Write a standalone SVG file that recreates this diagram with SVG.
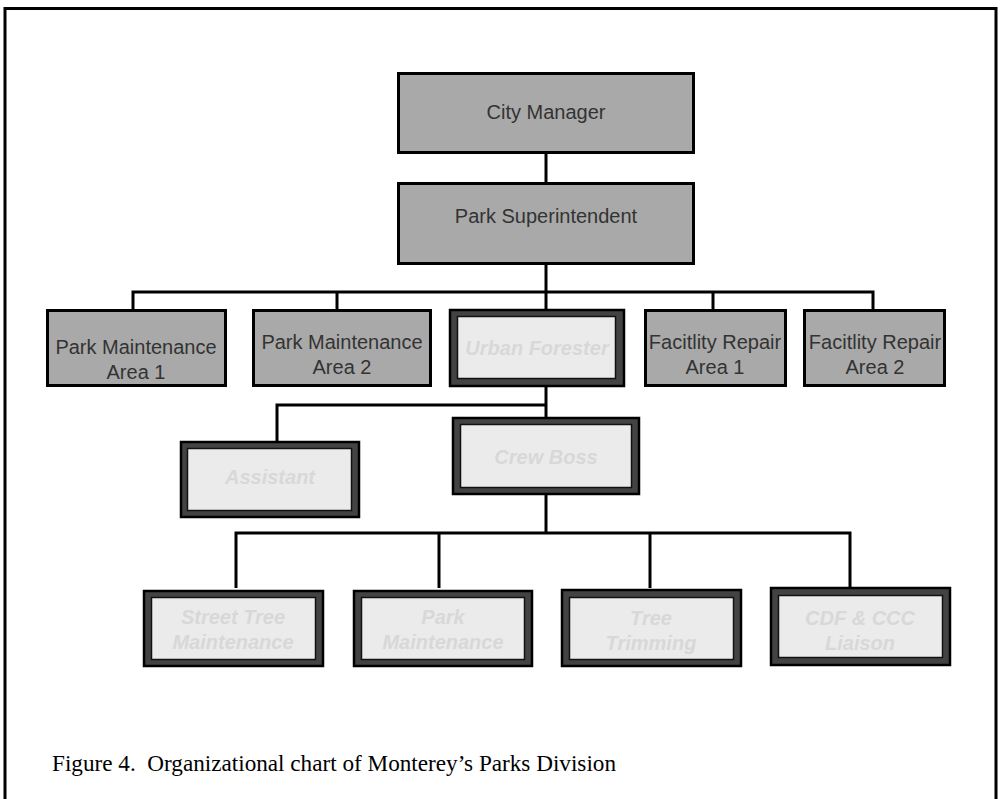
<svg xmlns="http://www.w3.org/2000/svg" width="1001" height="799" viewBox="0 0 1001 799">
<style>
.frame{fill:none;stroke:#000;stroke-width:3}
.gbox{fill:#a9a9a9;stroke:#000;stroke-width:3}
.lout{fill:#434343;stroke:#000;stroke-width:2.5}
.lin{fill:#ebebeb;stroke:#111;stroke-width:1.5}
.gt{font-family:"Liberation Sans",Arial,sans-serif;font-size:20px;fill:#333;text-anchor:middle}
.lt{font-family:"Liberation Sans",Arial,sans-serif;font-size:20px;font-weight:bold;font-style:italic;fill:#d8d8d8;text-anchor:middle}
.cap{font-family:"Liberation Serif","Times New Roman",serif;font-size:24px;fill:#000;white-space:pre}
.conn{fill:none;stroke:#000;stroke-width:3}
</style>
<rect x="0" y="0" width="1001" height="799" fill="#fff"/>
<path class="frame" d="M5,799 V8.5 H996 V799"/>
<g id="connectors">
<path class="conn" d="M546,154 V182"/>
<path class="conn" d="M546,265 V292"/>
<path class="conn" d="M133,309 V292 H873 V309"/>
<path class="conn" d="M337,292 V309"/>
<path class="conn" d="M546,292 V309"/>
<path class="conn" d="M713,292 V309"/>
<path class="conn" d="M546,387 V417"/>
<path class="conn" d="M277,441 V405 H546"/>
<path class="conn" d="M546,495 V533"/>
<path class="conn" d="M236,588 V533 H850 V588"/>
<path class="conn" d="M439,533 V588"/>
<path class="conn" d="M650,533 V588"/>
</g>
<g id="city-manager">
<rect class="gbox" x="398.5" y="73.5" width="295" height="79"/>
<text class="gt" x="546" y="119">City Manager</text>
</g>
<g id="park-superintendent">
<rect class="gbox" x="398.5" y="183.5" width="295" height="80"/>
<text class="gt" x="546" y="223">Park Superintendent</text>
</g>
<g id="pm-area1">
<rect class="gbox" x="47.5" y="310.5" width="178" height="75"/>
<text class="gt" x="136" y="354">Park Maintenance</text>
<text class="gt" x="136" y="379">Area 1</text>
</g>
<g id="pm-area2">
<rect class="gbox" x="253.5" y="310.5" width="177" height="75"/>
<text class="gt" x="342" y="349">Park Maintenance</text>
<text class="gt" x="342" y="374">Area 2</text>
</g>
<g id="urban-forester">
<rect class="lout" x="450" y="310" width="174" height="76"/>
<rect class="lin" x="457.5" y="316.5" width="158" height="62"/>
<text class="lt" x="537" y="355">Urban Forester</text>
</g>
<g id="fr-area1">
<rect class="gbox" x="645.5" y="310.5" width="140" height="75"/>
<text class="gt" x="715" y="349">Facitlity Repair</text>
<text class="gt" x="715" y="374">Area 1</text>
</g>
<g id="fr-area2">
<rect class="gbox" x="804.5" y="310.5" width="140" height="75"/>
<text class="gt" x="875" y="349">Facitlity Repair</text>
<text class="gt" x="875" y="374">Area 2</text>
</g>
<g id="assistant">
<rect class="lout" x="181" y="442" width="178" height="75"/>
<rect class="lin" x="187.5" y="448.5" width="164" height="62"/>
<text class="lt" x="270" y="484">Assistant</text>
</g>
<g id="crew-boss">
<rect class="lout" x="453" y="418" width="186" height="76"/>
<rect class="lin" x="460.5" y="424.5" width="171" height="63"/>
<text class="lt" x="546" y="464">Crew Boss</text>
</g>
<g id="street-tree">
<rect class="lout" x="144" y="591" width="179" height="75"/>
<rect class="lin" x="151.5" y="597.5" width="164" height="62"/>
<text class="lt" x="233" y="624">Street Tree</text>
<text class="lt" x="233" y="649">Maintenance</text>
</g>
<g id="park-maintenance">
<rect class="lout" x="354" y="591" width="178" height="75"/>
<rect class="lin" x="361.5" y="597.5" width="163" height="62"/>
<text class="lt" x="443" y="624">Park</text>
<text class="lt" x="443" y="649">Maintenance</text>
</g>
<g id="tree-trimming">
<rect class="lout" x="562" y="590" width="179" height="76"/>
<rect class="lin" x="569.5" y="597.5" width="164" height="62"/>
<text class="lt" x="651" y="625">Tree</text>
<text class="lt" x="651" y="650">Trimming</text>
</g>
<g id="cdf-ccc">
<rect class="lout" x="771" y="588" width="179" height="77"/>
<rect class="lin" x="778.5" y="595.5" width="164" height="62"/>
<text class="lt" x="860" y="625">CDF &amp; CCC</text>
<text class="lt" x="860" y="650">Liaison</text>
</g>
<text class="cap" x="52" y="771" xml:space="preserve" textLength="564" lengthAdjust="spacingAndGlyphs">Figure 4.  Organizational chart of Monterey’s Parks Division</text>
</svg>
